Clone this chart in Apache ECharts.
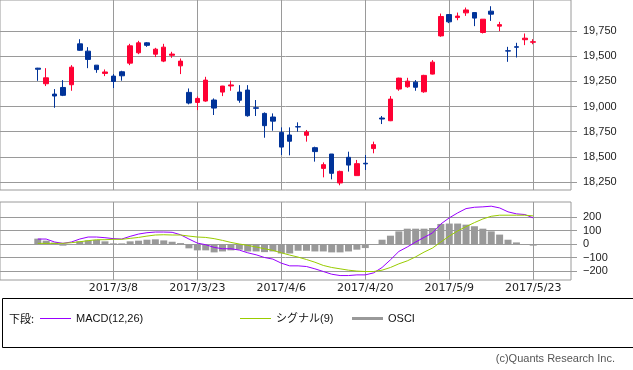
<!DOCTYPE html>
<html><head><meta charset="utf-8">
<script src="https://cdn.jsdelivr.net/npm/echarts@6/dist/echarts.min.js"></script>
<style>html,body{margin:0;padding:0;background:#fff}#c{width:633px;height:370px}</style>
</head><body><div id="c"></div>
<script>
const dates = ['2017/2/23','2017/2/24','2017/2/27','2017/2/28','2017/3/1','2017/3/2','2017/3/3','2017/3/6','2017/3/7','2017/3/8',
  '2017/3/9','2017/3/10','2017/3/13','2017/3/14','2017/3/15','2017/3/16','2017/3/17','2017/3/21','2017/3/22','2017/3/23',
  '2017/3/24','2017/3/27','2017/3/28','2017/3/29','2017/3/30','2017/3/31','2017/4/3','2017/4/4','2017/4/5','2017/4/6',
  '2017/4/7','2017/4/10','2017/4/11','2017/4/12','2017/4/13','2017/4/14','2017/4/17','2017/4/18','2017/4/19','2017/4/20',
  '2017/4/21','2017/4/24','2017/4/25','2017/4/26','2017/4/27','2017/4/28','2017/5/1','2017/5/2','2017/5/8','2017/5/9',
  '2017/5/10','2017/5/11','2017/5/12','2017/5/15','2017/5/16','2017/5/17','2017/5/18','2017/5/19','2017/5/22','2017/5/23'];
const openV  = [19382,19227,19124,19190,19217,19624,19551,19412,19330,19303, 19346,19432,19535,19634,19521,19452,19510,19405,19141,19041,
  19055,19065,19144,19205,19144,19164,18988,18932,18896,18743, 18717,18800,18714,18591,18385,18528,18240,18495,18313,18436,
  18582,18886,18859,19174,19197,19243,19147,19323,19703,19915, 19885,19932,19935,19737,19949,19800,19555,19595,19665,19640];
const closeV = [19371,19286,19105,19112,19392,19560,19469,19368,19344,19250, 19306,19604,19634,19609,19571,19591,19522,19452,19035,19081,
  19263,18985,19204,19215,19063,18909,18983,18810,18855,18597, 18655,18797,18747,18552,18422,18336,18355,18418,18432,18430,
  18621,18876,19074,19283,19253,19192,19310,19442,19896,19843, 19900,19961,19880,19869,19919,19815,19552,19590,19680,19645];
const lowV   = [19256,19204,18988,19104,19157,19555,19382,19336,19303,19184, 19257,19412,19521,19594,19492,19442,19485,19323,19022,18965,
  19048,18916,19104,19157,19038,18899,18906,18690,18760,18518, 18515,18750,18651,18452,18296,18276,18217,18353,18313,18369,
  18535,18826,18855,19157,19187,19157,19137,19320,19694,19830, 19859,19902,19800,19727,19852,19750,19445,19488,19611,19620];
const highV  = [19385,19382,19174,19263,19412,19670,19591,19412,19369,19323, 19356,19624,19654,19641,19584,19624,19545,19478,19180,19101,
  19296,19081,19206,19257,19213,19213,19065,18942,18932,18793, 18793,18843,18767,18601,18445,18528,18363,18551,18469,18518,
  18651,18906,19104,19287,19286,19263,19316,19462,19925,19920, 19935,19985,19935,19869,19998,19843,19594,19634,19727,19670];
const macd   = [37,37,15,5,15,37,52,52,47,40, 37,57,74,84,89,89,87,69,37,7,
  -5,-25,-35,-35,-45,-65,-80,-100,-112,-142, -162,-162,-167,-184,-204,-224,-234,-234,-229,-229,
  -214,-174,-117,-55,-22,15,49,82,149,194, 231,263,273,276,281,268,239,224,219,194];
const signal = [5,5,5,5,10,17,25,32,32,35, 35,42,49,59,67,69,67,67,59,52,
  49,40,27,12,0,-10,-22,-35,-47,-65, -82,-97,-115,-135,-159,-174,-184,-194,-201,-204,
  -204,-194,-174,-147,-125,-95,-60,-30,15,59, 97,129,159,186,206,214,214,214,214,209];
const osci   = [40,25,10,-12,-5,20,27,30,20,5, 5,20,25,32,35,27,17,7,-32,-47,
  -47,-62,-55,-47,-42,-55,-55,-60,-55,-70, -70,-50,-50,-55,-55,-62,-62,-55,-42,-30,
  -5,32,62,94,114,114,114,119,149,152, 152,144,132,114,94,70,32,12,-5,-12];
const xTickLabels = ['2017/3/8','2017/3/23','2017/4/6','2017/4/20','2017/5/9','2017/5/23'];
const priceTicks = [18250,18500,18750,19000,19250,19500,19750];
const macdTicks = [-200,-100,0,100,200];
const seriesNames = ['MACD(12,26)','シグナル(9)','OSCI'];
const padCount = 4;

const cats = [];
for (let i = 0; i < padCount; i++) cats.push('pre' + i);
dates.forEach(d => cats.push(d));
for (let i = 0; i < padCount; i++) cats.push('post' + i);

const candleData = dates.map((d, i) => [i + padCount, openV[i], closeV[i], lowV[i], highV[i]]);
const pair = arr => arr.map((v, i) => [i + padCount, v]);
const isTick = (idx, val) => xTickLabels.indexOf(val) >= 0;
const GRID = '#9a9a9a';
const TXT = '#222';
const C_MACD = '#9900ff', C_SIG = '#99cc00', C_OSCI = '#999999';
const legendText = {fontFamily: 'Liberation Sans, Noto Sans CJK JP', fontSize: 11, color: '#111'};

const chart = echarts.init(document.getElementById('c'), null, {renderer: 'canvas'});
chart.setOption({
  animation: false,
  backgroundColor: '#fff',
  grid: [
    {left: 0, right: 62, top: 0, height: 190, show: true, borderColor: GRID, borderWidth: 1},
    {left: 0, right: 62, top: 202, height: 78, show: true, borderColor: GRID, borderWidth: 1}
  ],
  xAxis: [
    {type: 'category', gridIndex: 0, data: cats, boundaryGap: true,
     axisLine: {show: false}, axisTick: {show: false}, axisLabel: {show: false},
     splitLine: {show: true, interval: isTick, alignWithLabel: true, lineStyle: {color: GRID, width: 1}}},
    {type: 'category', gridIndex: 1, data: cats, boundaryGap: true,
     axisLine: {show: false}, axisTick: {show: false},
     axisLabel: {show: true, interval: isTick, margin: 3, fontFamily: 'DejaVu Sans', fontSize: 11, color: TXT},
     splitLine: {show: true, interval: isTick, alignWithLabel: true, lineStyle: {color: GRID, width: 1}}}
  ],
  yAxis: [
    {type: 'value', gridIndex: 0, position: 'right', min: 18170, max: 20060,
     axisLine: {show: false},
     axisTick: {show: true, customValues: priceTicks, length: 6, lineStyle: {color: GRID}},
     axisLabel: {customValues: priceTicks, align: 'left', margin: 12, fontFamily: 'Liberation Sans', fontSize: 11, color: TXT,
       formatter: v => v.toLocaleString('en-US')},
     splitLine: {show: true, lineStyle: {color: GRID, width: 1}}},
    {type: 'value', gridIndex: 1, position: 'right', min: -267, max: 312,
     axisLine: {show: false},
     axisTick: {show: true, customValues: macdTicks, length: 6, lineStyle: {color: GRID}},
     axisLabel: {customValues: macdTicks, align: 'left', margin: 12, fontFamily: 'Liberation Sans', fontSize: 11, color: TXT,
       formatter: v => (v < 0 ? '\u2212' + Math.abs(v) : String(v))},
     splitLine: {show: true, lineStyle: {color: GRID, width: 1}}}
  ],
  legend: [
    {data: [{name: seriesNames[0], itemStyle: {color: C_MACD, borderWidth: 0}}], left: 40, top: 313, padding: 0, icon: 'rect',
     itemWidth: 31, itemHeight: 1, selectedMode: false, textStyle: legendText},
    {data: [{name: seriesNames[1], itemStyle: {color: C_SIG, borderWidth: 0}}], left: 240, top: 313, padding: 0, icon: 'rect',
     itemWidth: 31, itemHeight: 1, selectedMode: false, textStyle: legendText},
    {data: [{name: seriesNames[2], itemStyle: {color: C_OSCI, borderWidth: 0}}], left: 352, top: 313, padding: 0, icon: 'rect',
     itemWidth: 31, itemHeight: 3, selectedMode: false, textStyle: legendText}
  ],
  graphic: [
    {type: 'rect', left: 0, top: 296, shape: {x: 0.5, y: 0.5, width: 631, height: 49}, style: {fill: 'none', stroke: '#000', lineWidth: 1}, silent: true},
    {type: 'text', left: 9, top: 313, style: {text: '下段:', font: '11px "Noto Sans CJK JP"', fill: '#111'}, silent: true},
    {type: 'text', right: 18, top: 353, style: {text: '(c)Quants Research Inc.', font: '11px "Liberation Sans"', fill: '#555'}, silent: true}
  ],
  series: [
    {type: 'candlestick', name: 'price', xAxisIndex: 0, yAxisIndex: 0, data: candleData, encode: {x: 0, y: [1, 2, 3, 4]},
     barWidth: 5,
     itemStyle: {color: '#ff0033', color0: '#003399', borderColor: '#ff0033', borderColor0: '#003399', borderWidth: 1}},
    {type: 'bar', name: seriesNames[2], xAxisIndex: 1, yAxisIndex: 1, data: pair(osci), barWidth: 7,
     itemStyle: {color: C_OSCI}},
    {type: 'line', name: seriesNames[0], xAxisIndex: 1, yAxisIndex: 1, data: pair(macd), showSymbol: false,
     itemStyle: {color: C_MACD}, lineStyle: {color: C_MACD, width: 1}},
    {type: 'line', name: seriesNames[1], xAxisIndex: 1, yAxisIndex: 1, data: pair(signal), showSymbol: false,
     itemStyle: {color: C_SIG}, lineStyle: {color: C_SIG, width: 1}}
  ]
});
</script></body></html>
